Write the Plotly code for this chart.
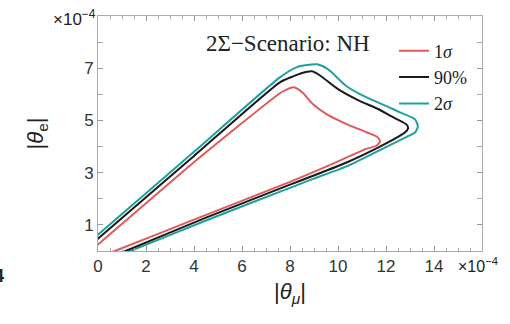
import plotly.graph_objects as go

# data (units of 1e-4)
red_x = [0.2, 0.7, 4.0, 8.0, 9.67, 10.6, 11.2, 11.6, 11.75, 11.65, 11.21, 10.38, 9.54, 8.96, 8.54, 8.3, 8.13, 7.9, 7.58, 4.0, 0.08, -0.5]
red_y = [-0.18, 0.0, 1.2, 2.65, 3.3, 3.68, 3.92, 4.03, 4.2, 4.36, 4.54, 4.85, 5.23, 5.62, 6.05, 6.22, 6.27, 6.2, 6.04, 3.4, 0.31, -0.14]

black_x = [0.6, 1.15, 4.5, 8.0, 8.96, 10.38, 11.75, 12.46, 12.8, 12.92, 12.85, 12.17, 11.75, 10.79, 10.0, 9.25, 8.92, 8.5, 8.13, 7.58, 4.0, 0.08, -0.5]
black_y = [-0.2, 0.0, 1.28, 2.54, 2.88, 3.4, 4.0, 4.35, 4.55, 4.7, 4.85, 5.18, 5.4, 5.8, 6.2, 6.72, 6.88, 6.82, 6.69, 6.46, 3.64, 0.54, 0.08]

teal_x = [0.8, 1.35, 4.5, 8.0, 8.96, 10.38, 12.04, 12.88, 13.21, 13.33, 13.21, 12.58, 12.04, 11.04, 10.3, 9.6, 9.13, 8.7, 8.29, 7.58, 4.0, 0.08, -0.5]
teal_y = [-0.2, 0.0, 1.17, 2.42, 2.76, 3.25, 4.0, 4.38, 4.54, 4.77, 5.04, 5.31, 5.54, 5.95, 6.35, 6.95, 7.15, 7.12, 7.04, 6.65, 3.8, 0.69, 0.23]

x_ticks = [0, 2, 4, 6, 8, 10, 12, 14]
y_ticks = [1, 3, 5, 7]

RED = "#e05a5a"
BLACK = "#1a1a1a"
TEAL = "#1f9f9f"

fig = go.Figure()
for name, xs, ys, col, rank in [
    ("2<i>σ</i>", teal_x, teal_y, TEAL, 3),
    ("90%", black_x, black_y, BLACK, 2),
    ("1<i>σ</i>", red_x, red_y, RED, 1),
]:
    fig.add_trace(go.Scatter(x=xs, y=ys, mode="lines", name=name, legendrank=rank,
                             line=dict(color=col, width=2, shape="spline", smoothing=0.6)))

axis_common = dict(showline=True, linecolor="#aaaaaa", linewidth=1, mirror="ticks",
                   ticks="inside", ticklen=5, tickcolor="#999999", showgrid=False, zeroline=False,
                   automargin=False,
                   tickfont=dict(family="Liberation Sans, Arial", size=17, color="#333333"))

fig.update_xaxes(range=[0, 16], tickvals=x_ticks, ticktext=[str(v) for v in x_ticks],
                 minor=dict(dtick=0.5, ticklen=3, ticks="inside", tickcolor="#aaaaaa"),
                 title=dict(text="|<i>θ</i><sub><i>μ</i></sub>|", font=dict(family="Liberation Sans, Arial", size=22, color="#222"), standoff=8),
                 **axis_common)
fig.update_yaxes(range=[0, 9], tickvals=y_ticks, ticktext=[str(v) for v in y_ticks],
                 minor=dict(dtick=1, ticklen=5, ticks="inside", tickcolor="#aaaaaa"),
                 title=dict(text="|<i>θ</i><sub>e</sub>|", font=dict(family="Liberation Sans, Arial", size=22, color="#222"), standoff=34),
                 **axis_common)

fig.update_layout(
    width=510, height=324,
    margin=dict(l=98, r=28, t=16, b=73, autoexpand=False),
    paper_bgcolor="white", plot_bgcolor="white",
    showlegend=True,
    legend=dict(x=0.771, y=0.93, xanchor="left", yanchor="top", bgcolor="rgba(0,0,0,0)",
                font=dict(family="Liberation Serif, Times New Roman", size=18, color="#222"),
                itemwidth=30, tracegroupgap=0),
    annotations=[
        dict(text="2Σ−Scenario: NH", xref="paper", yref="paper", x=(204-98)/384, y=(251-43)/235,
             xanchor="left", yanchor="middle", showarrow=False,
             font=dict(family="Liberation Serif, Times New Roman", size=23, color="#222")),
        dict(text="×10<sup>−4</sup>", xref="paper", yref="paper", x=(98-98)/384, y=(251-18)/235,
             xanchor="right", yanchor="middle", showarrow=False,
             font=dict(family="Liberation Sans, Arial", size=17, color="#222")),
        dict(text="×10<sup>−4</sup>", xref="paper", yref="paper", x=(456-98)/384, y=(251-265)/235,
             xanchor="left", yanchor="middle", showarrow=False,
             font=dict(family="Liberation Sans, Arial", size=16, color="#222")),
        dict(text="<b>4</b>", xref="paper", yref="paper", x=(6-98)/384, y=(251-276)/235,
             xanchor="right", yanchor="middle", showarrow=False,
             font=dict(family="Liberation Sans, Arial", size=18, color="#222")),
    ],
)

fig.write_html("out.html", config={"displayModeBar": False},
               post_script="document.body.style.margin='0';document.body.style.overflow='hidden';")
